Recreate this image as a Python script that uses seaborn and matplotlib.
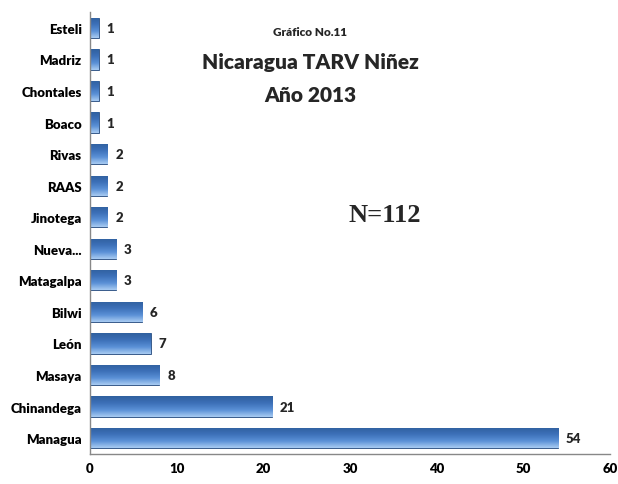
import matplotlib
matplotlib.use("Agg")
import matplotlib.pyplot as plt
import seaborn as sns
import numpy as np
import pandas as pd
from matplotlib.colors import LinearSegmentedColormap

categories = ["Esteli", "Madriz", "Chontales", "Boaco", "Rivas", "RAAS", "Jinotega",
              "Nueva...", "Matagalpa", "Bilwi", "León", "Masaya", "Chinandega", "Managua"]
values = [1, 1, 1, 1, 2, 2, 2, 3, 3, 6, 7, 8, 21, 54]
xticks = [0, 10, 20, 30, 40, 50, 60]

sns.set_theme(style="white")
plt.rcParams['font.family'] = ['Lato', 'DejaVu Sans']

df = pd.DataFrame({"cat": categories, "val": values})

fig = plt.figure(figsize=(6.18, 4.85), dpi=100)
ax = fig.add_axes([0.1456, 0.062, 0.842, 0.911])
sns.barplot(data=df, y="cat", x="val", orient="h", color="#3A6FB8", width=0.64,
            edgecolor="#2B4F80", linewidth=0.6, ax=ax, saturation=1)

# gradient overlay for a glossy look
cmap = LinearSegmentedColormap.from_list("g", ["#A8CBF2", "#5A90D6", "#3C70B8", "#30609F"])
grad = np.linspace(0, 1, 64).reshape(-1, 1)
for p in ax.patches:
    x0, y0 = p.get_x(), p.get_y()
    w, h = p.get_width(), p.get_height()
    im = ax.imshow(grad, cmap=cmap, aspect="auto", extent=(x0, x0 + w, y0, y0 + h),
                   origin="upper", zorder=p.get_zorder() + 0.1, interpolation="bicubic")
    im.set_clip_path(p)

ax.set_xlim(0, 60)
ax.set_ylim(len(categories) - 0.5, -0.5)
ax.set_xticks(xticks)
ax.set_xticklabels([str(t) for t in xticks], fontsize=9.5, fontweight="heavy")
ax.set_yticks(range(len(categories)))
ax.set_yticklabels(categories, fontsize=9.5, fontweight="heavy")
ax.set_xlabel("")
ax.set_ylabel("")

for s in ["top", "right"]:
    ax.spines[s].set_visible(False)
for s in ["left", "bottom"]:
    ax.spines[s].set_color("#888888")
    ax.spines[s].set_linewidth(1.0)

ax.tick_params(axis="y", which="major", length=0, pad=6)
ax.set_yticks(np.arange(-0.5, len(categories), 1.0), minor=True)
ax.tick_params(axis="y", which="minor", length=4, color="#888888", direction="out")
ax.tick_params(axis="x", which="major", length=4, color="#888888", direction="in", pad=6)
ax.tick_params(axis="both", colors="#888888", labelcolor="black")

for i, v in enumerate(values):
    ax.text(v + 0.9, i, str(v), va="center", ha="left", fontsize=9.5, fontweight="heavy")

fig.text(0.502, 0.932, "Gráfico No.11", ha="center", va="center", fontsize=8.5, fontweight="heavy")
fig.text(0.502, 0.872, "Nicaragua TARV Niñez", ha="center", va="center", fontsize=15, fontweight="heavy")
fig.text(0.502, 0.804, "Año 2013", ha="center", va="center", fontsize=15, fontweight="heavy")
fig.text(0.623, 0.556, "N=112", ha="center", va="center", fontsize=19, fontweight="bold",
         family=["Liberation Serif", "DejaVu Serif"])

fig.savefig("out.png", dpi=100)
